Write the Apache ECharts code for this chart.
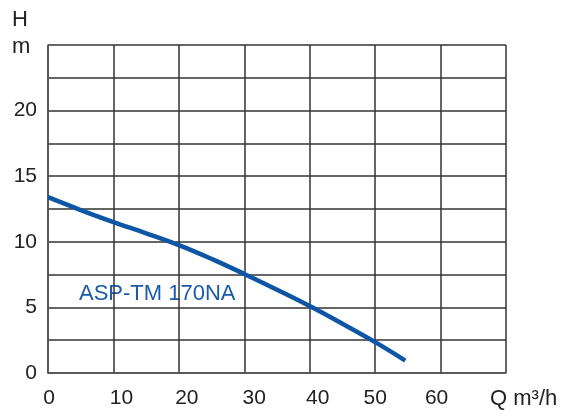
<!DOCTYPE html>
<html>
<head>
<meta charset="utf-8">
<script src="https://cdn.jsdelivr.net/npm/echarts@6/dist/echarts.min.js"></script>
<style>html,body{margin:0;padding:0;background:#fff}#c{width:564px;height:410px}</style>
</head>
<body>
<div id="c"></div>
<script>
var flow = [0, 5, 10, 15, 20, 25, 30, 35, 40, 45, 50, 54.6];
var head = [13.4, 12.42, 11.5, 10.65, 9.75, 8.7, 7.55, 6.35, 5.1, 3.75, 2.35, 0.95];
var xTicks = [0, 10, 20, 30, 40, 50, 60];
var yTicks = [0, 5, 10, 15, 20];
var seriesName = 'ASP-TM 170NA';

var font = 'Liberation Sans, Arial, sans-serif';
// small horizontal nudges of the x tick labels, as in the reference
var xShift = {0: 1, 10: 8, 20: 8, 30: 10, 40: 8, 50: 0, 60: -4};
var rich = {};
xTicks.forEach(function (v) {
  var s = xShift[v];
  rich['t' + v] = {
    fontSize: 21, fontFamily: font, color: '#222',
    padding: s >= 0 ? [0, 0, 0, 2 * s] : [0, -2 * s, 0, 0]
  };
});

var chart = echarts.init(document.getElementById('c'));
chart.setOption({
  animation: false,
  grid: {left: 48, right: 58, top: 45, bottom: 37},
  xAxis: {
    type: 'value', min: 0, max: 70, interval: 10,
    axisLine: {show: true, lineStyle: {color: '#555', width: 1.5}},
    axisTick: {show: false},
    splitLine: {show: true, lineStyle: {color: '#333', width: 1.5}},
    axisLabel: {
      margin: 15, color: '#222', fontSize: 21, fontFamily: font, rich: rich,
      formatter: function (v) { return xTicks.indexOf(v) >= 0 ? '{t' + v + '|' + v + '}' : ''; }
    }
  },
  yAxis: {
    type: 'value', min: 0, max: 25, interval: 2.5,
    axisLine: {show: true, lineStyle: {color: '#555', width: 1.5}},
    axisTick: {show: false},
    splitLine: {show: true, lineStyle: {color: '#333', width: 1.5}},
    axisLabel: {
      margin: 11, color: '#222', fontSize: 21, fontFamily: font,
      formatter: function (v) { return yTicks.indexOf(v) >= 0 ? String(v) : ''; }
    }
  },
  series: [{
    name: seriesName,
    type: 'line', smooth: 0.4, symbol: 'none',
    data: flow.map(function (q, i) { return [q, head[i]]; }),
    lineStyle: {color: '#0d56a6', width: 4.5}
  }],
  graphic: [
    {type: 'text', left: 12, top: 9, style: {text: 'H', fontSize: 22, fontFamily: font, fill: '#222'}},
    {type: 'text', left: 12, top: 36, style: {text: 'm', fontSize: 22, fontFamily: font, fill: '#222'}},
    {type: 'text', left: 490, top: 388, style: {text: 'Q m³/h', fontSize: 22, fontFamily: font, fill: '#222'}},
    {type: 'text', left: 79, top: 283, style: {text: seriesName, fontSize: 22, fontFamily: font, fill: '#1a5aa8', backgroundColor: '#fff', padding: [0, 0, 2, 0]}}
  ]
});
</script>
</body>
</html>
